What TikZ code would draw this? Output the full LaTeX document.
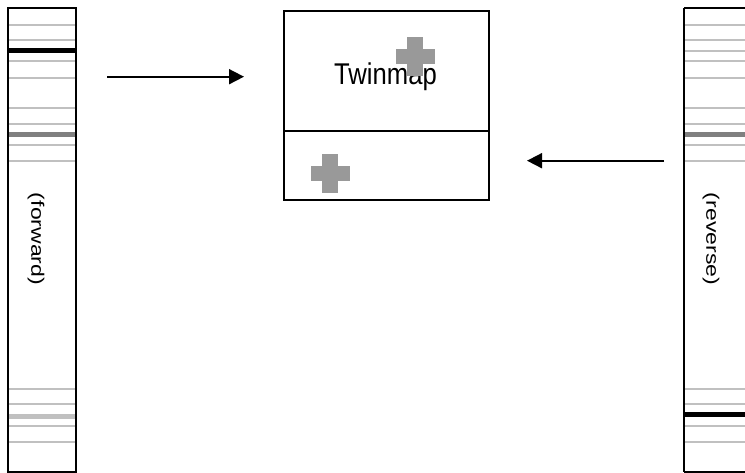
\documentclass[tikz,border=0pt]{standalone}
\usepackage{fontspec}
\setmainfont{Liberation Sans}
\usetikzlibrary{arrows.meta}
\definecolor{lightbar}{RGB}{192,192,192}
\definecolor{darkbar}{RGB}{128,128,128}
\definecolor{crossgray}{RGB}{153,153,153}
\tikzset{
  frame/.style={draw=black, line width=2pt},
  thinbar/.style={draw=lightbar, line width=2pt},
  thickbar/.style={line width=5pt},
  crossfill/.style={fill=crossgray, draw=none},
  arrowline/.style={draw=black, line width=1.8pt, -{Triangle[length=15pt,width=15pt]}},
  vlabel/.style={rotate=-90, inner sep=0pt},
}
\newcommand{\strip}[2]{%
  \foreach \yy in {25,40,61,78,108,124,145,161,389,404,426,442}
    \draw[thinbar] (#1,\yy) -- (#2,\yy);
}
\newcommand{\crossat}[2]{%
  \fill[crossfill] (#1-8,#2-19.5) rectangle (#1+8,#2+19.5);
  \fill[crossfill] (#1-19.5,#2-7.5) rectangle (#1+19.5,#2+7.5);
}
\begin{document}
\begin{tikzpicture}[x=1pt,y=-1pt]
\useasboundingbox (0,0) rectangle (745,473);
\fill[white] (0,0) rectangle (745,473);

% left strip (forward)
\strip{8}{76}
\draw[thickbar, draw=black] (8,51) -- (76,51);
\draw[thickbar, draw=darkbar] (8,135) -- (76,135);
\draw[thickbar, draw=lightbar] (8,416) -- (76,416);
\draw[frame] (8,8.5) rectangle (76,471.5);
\node[vlabel] (fw) at (36,239) {\scalebox{1.15}[0.9]{\fontsize{20}{24}\selectfont (forward)}};

% right strip (reverse)
\strip{684}{750}
\draw[thinbar] (684,51) -- (750,51);
\draw[thickbar, draw=darkbar] (684,135) -- (750,135);
\draw[thickbar, draw=black] (684,414.5) -- (750,414.5);
\draw[frame] (684,8.5) -- (684,471.5);
\draw[frame] (684,8.5) -- (750,8.5);
\draw[frame] (684,471.5) -- (750,471.5);
\node[vlabel] (rv) at (711,239) {\scalebox{1.15}[0.9]{\fontsize{20}{24}\selectfont (reverse)}};

% central box
\node[frame, minimum width=205pt, minimum height=120pt, inner sep=0pt, anchor=north west] (top) at (283,10) {};
\node[frame, minimum width=205pt, minimum height=69pt, inner sep=0pt, anchor=north west] (bot) at (283,130) {};
\node[anchor=base, inner sep=0pt] (tw) at (385.5,85) {\scalebox{0.855}[1]{\fontsize{30}{36}\selectfont Twinmap}};
\crossat{415}{56.5}
\crossat{330}{173.5}

% arrows
\coordinate (a1s) at (107,76.7);
\coordinate (a1e) at (244,76.7);
\coordinate (a2s) at (664,160.7);
\coordinate (a2e) at (527,160.7);
\draw[arrowline] (a1s) -- (a1e);
\draw[arrowline] (a2s) -- (a2e);
\end{tikzpicture}
\end{document}
